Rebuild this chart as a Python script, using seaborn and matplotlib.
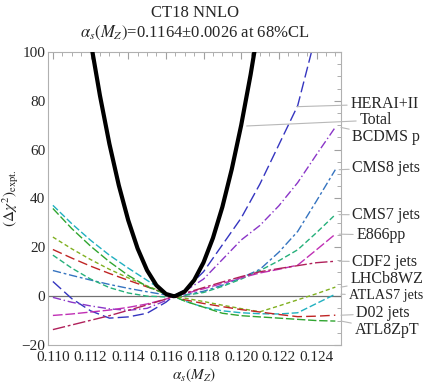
import matplotlib
matplotlib.use('Agg')
import matplotlib.pyplot as plt
import seaborn as sns
import pandas as pd
from matplotlib.ticker import MultipleLocator

sns.set_style('white')
plt.rcParams['font.family'] = ['Liberation Serif', 'DejaVu Serif']
plt.rcParams['mathtext.fontset'] = 'stix'

# alpha_s scan points
alphas = [0.110, 0.111, 0.112, 0.113, 0.114, 0.115, 0.116, 0.1164, 0.117,
          0.118, 0.119, 0.120, 0.121, 0.122, 0.123, 0.124, 0.125]

hera = [6, -1, -6, -9, -8.5, -7, -2.5, 0, 2.5, 10, 21, 32, 46, 62, 78, 108, 140]
bcdms = [-0.5, -2.5, -4, -5.2, -5.8, -5, -1.8, 0, 2, 7, 15, 23, 29, 37, 46.5, 58, 69.2]
cms8 = [10.5, 8.5, 6.6, 4.8, 3.2, 1.8, 0.5, 0, 0.5, 2, 4.5, 7.5, 11, 18, 26.5, 39, 51.8]
cms7 = [16.8, 11.5, 7, 3.5, 1.3, 0, -0.3, 0, 0.3, 1.5, 4, 7, 10.5, 14.5, 19, 26, 33.4]
e866 = [-7.9, -7.3, -6.5, -5.7, -4.6, -3.2, -1.2, 0, 1, 3, 5.2, 7.5, 9.5, 11, 12.7, 19, 25.4]
cdf2 = [-13.7, -11.8, -9.9, -8, -5.8, -3.6, -1.2, 0, 1.2, 3.5, 5.8, 8, 10, 11.3, 12.5, 13.7, 14.3]
lhcb = [24.2, 19.4, 15, 11, 7.5, 4.2, 1.2, 0, -0.8, -2.2, -3.7, -5.1, -6.4, -4, -1.5, 1, 3.7]
atlas7 = [37.2, 29.7, 22.9, 16.8, 11.5, 6.5, 1.5, 0, -2, -4.5, -6, -6.8, -7.2, -7.3, -6.8, -3, 0.8]
d02 = [19.1, 15.6, 12.3, 9.3, 6.5, 3.8, 1.1, 0, -1.5, -3, -4.3, -5.5, -6.5, -7.5, -8.4, -8.2, -7.8]
atl8 = [35.9, 27.7, 20.5, 14.1, 8.5, 4, 0.8, 0, -2, -4.5, -7, -8, -8.5, -9, -9.5, -10, -10.2]

# total chi2 on a finer scan
alphas_tot = [0.1120, 0.1125, 0.1130, 0.1135, 0.1140, 0.1145, 0.1150, 0.1155, 0.1160,
              0.1164, 0.1165, 0.1170, 0.1175, 0.1180, 0.1185, 0.1190, 0.1195, 0.1200,
              0.1205, 0.1210]
total = [104.5, 82.1, 62.4, 45.4, 31.1, 19.5, 10.6, 4.4, 0.9,
         0, 0.05, 1.9, 6.5, 13.8, 23.8, 36.5, 52, 70, 90.7, 114]

names = ['HERAI+II', 'BCDMS p', 'CMS8 jets', 'CMS7 jets', 'E866pp', 'CDF2 jets',
         'LHCb8WZ', 'ATLAS7 jets', 'D02 jets', 'ATL8ZpT']
series = [hera, bcdms, cms8, cms7, e866, cdf2, lhcb, atlas7, d02, atl8]
colors = ['#3535c0', '#8a35c8', '#3574c0', '#25b07a', '#c030b5', '#b0205a',
          '#80b020', '#20b0c0', '#c02525', '#30a530']
styles = [(0, (8, 3)), (0, (6, 2, 1, 2)), (0, (6, 2, 2, 2)), (0, (4, 2)),
          (0, (7, 2)), (0, (9, 2, 2, 2)), (0, (3, 2)), (0, (5, 2)),
          (0, (7, 3)), (0, (6, 2))]

# label text positions (x, y) and where the leader line hits the curve
label_pos = {'HERAI+II': (0.12580, 78.7), 'Total': (0.12628, 72.1),
             'BCDMS p': (0.12591, 65.2), 'CMS8 jets': (0.12591, 52.5),
             'CMS7 jets': (0.12591, 33.2), 'E866pp': (0.12612, 25.0),
             'CDF2 jets': (0.12591, 14.1), 'LHCb8WZ': (0.12580, 7.0),
             'ATLAS7 jets': (0.12570, 0.2), 'D02 jets': (0.12612, -7.1),
             'ATL8ZpT': (0.12602, -13.9)}
leader_end = {'HERAI+II': (0.12296, 77.6), 'Total': (0.12029, 69.7),
              'BCDMS p': (0.1253, 69.1), 'CMS8 jets': (0.1252, 51.8),
              'CMS7 jets': (0.1252, 33.4), 'E866pp': (0.1252, 25.4),
              'CDF2 jets': (0.1252, 14.3), 'LHCb8WZ': (0.1253, 3.7),
              'ATLAS7 jets': (0.1253, 0.8), 'D02 jets': (0.1253, -7.8),
              'ATL8ZpT': (0.1253, -10.2)}

fig = plt.figure(figsize=(4.24, 3.84), dpi=100)
ax = fig.add_axes([0.1132, 0.1016, 0.691, 0.763])

ax.axhline(0, color='#707070', lw=0.9, zorder=1)

for name, vals, c, ls in zip(names, series, colors, styles):
    df = pd.DataFrame({'alpha': alphas, 'chi2': vals})
    sns.lineplot(data=df, x='alpha', y='chi2', ax=ax, color=c, lw=1.0,
                 linestyle=ls, sort=False)

df_tot = pd.DataFrame({'alpha': alphas_tot, 'chi2': total})
sns.lineplot(data=df_tot, x='alpha', y='chi2', ax=ax, color='black', lw=3.0,
             sort=False, zorder=5)

ax.set_xlim(0.10974, 0.1253)
ax.set_ylim(-20, 100)
ax.xaxis.set_minor_locator(MultipleLocator(0.0005))
ax.yaxis.set_minor_locator(MultipleLocator(5))
ax.set_xticks([0.110, 0.112, 0.114, 0.116, 0.118, 0.120, 0.122, 0.124])
ax.set_xticklabels(['0.110', '0.112', '0.114', '0.116', '0.118', '0.120', '0.122', '0.124'])
ax.set_yticks([-20, 0, 20, 40, 60, 80, 100])
ax.set_yticklabels(['\u221220', '0', '20', '40', '60', '80', '100'])
ax.tick_params(which='both', direction='in', top=True, right=True, color='#a0a0a0',
               labelsize=11)
ax.tick_params(axis='x', pad=4)
ax.tick_params(axis='y', pad=2)
ax.tick_params(which='major', length=5, width=0.8)
ax.tick_params(which='minor', length=3, width=0.6)
for sp in ax.spines.values():
    sp.set_color('#b0b0b0')
    sp.set_linewidth(0.8)

ax.set_xlabel(r'$\alpha_s(M_Z)$', fontsize=11, labelpad=2)
ax.set_ylabel(r'$(\Delta\chi^2)_{\rm expt.}$', fontsize=11, labelpad=0)

fig.text(0.46, 0.965, 'CT18 NNLO', ha='center', va='center', fontsize=12)
fig.text(0.46, 0.915, r'$\alpha_s(M_Z)$=0.1164' + '\u00b1' + '0.0026 at 68%CL',
         ha='center', va='center', fontsize=12)

for lab in ['HERAI+II', 'Total'] + names[1:]:
    fs = 10.2 if lab == 'ATLAS7 jets' else 11.5
    ax.annotate(lab, xy=leader_end[lab], xytext=label_pos[lab],
                ha='left', va='center', fontsize=fs, annotation_clip=False,
                arrowprops=dict(arrowstyle='-', color='#b8b8b8', lw=0.8,
                                shrinkA=0, shrinkB=0))

fig.savefig('out.png', dpi=100)
